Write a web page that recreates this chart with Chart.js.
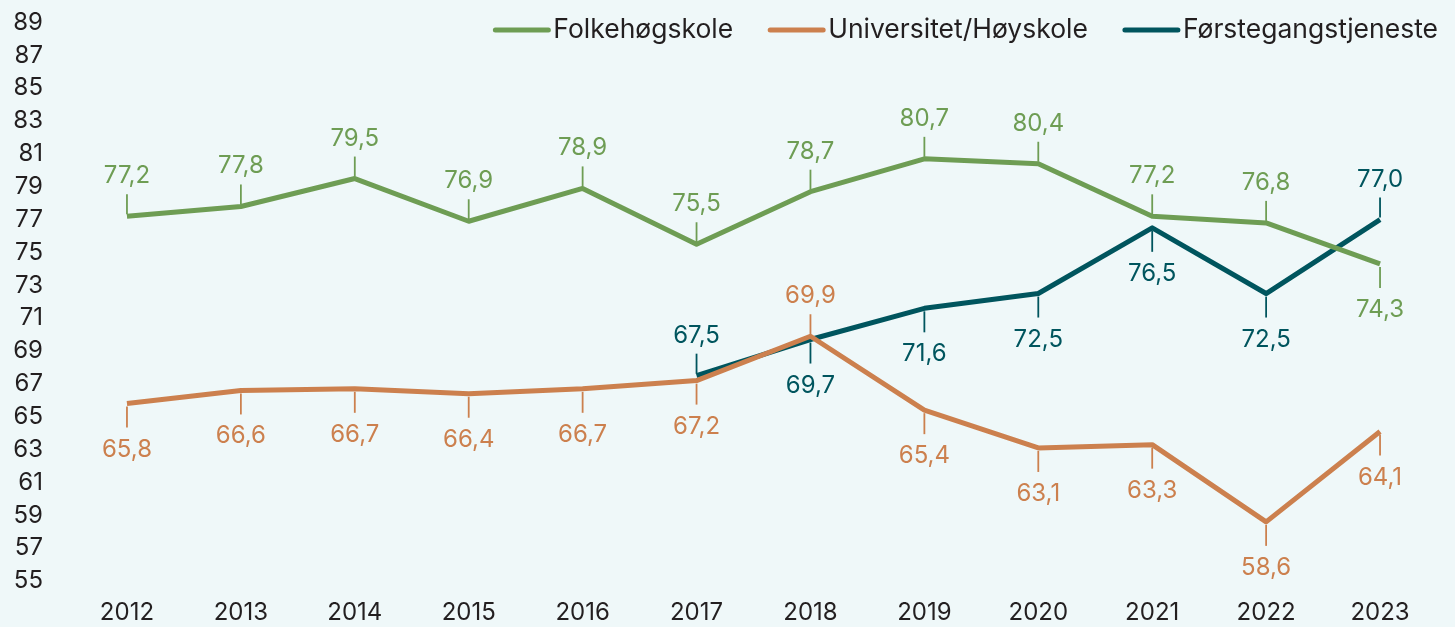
<!DOCTYPE html>
<html>
<head>
<meta charset="utf-8">
<script src="https://cdn.jsdelivr.net/npm/chart.js@4"></script>
<style>
  html, body { margin: 0; padding: 0; background: #eff8f9; }
  #wrap { width: 1455px; height: 627px; }
</style>
</head>
<body>
<div id="wrap"><canvas id="graf"></canvas></div>
<script>
// ── Datos ─────────────────────────────────────────────────────
const years = ["2012","2013","2014","2015","2016","2017","2018","2019","2020","2021","2022","2023"];
const folkehogskole = [77.2, 77.8, 79.5, 76.9, 78.9, 75.5, 78.7, 80.7, 80.4, 77.2, 76.8, 74.3];
const universitet   = [65.8, 66.6, 66.7, 66.4, 66.7, 67.2, 69.9, 65.4, 63.1, 63.3, 58.6, 64.1];
const forstegang    = [null, null, null, null, null, 67.5, 69.7, 71.6, 72.5, 76.5, 72.5, 77.0];
const yTicks = [55, 57, 59, 61, 63, 65, 67, 69, 71, 73, 75, 77, 79, 81, 83, 85, 87, 89];

// lado de la etiqueta: 1 = arriba, -1 = abajo
const folkSide  = [1, 1, 1, 1, 1, 1, 1, 1, 1, 1, 1, -1];
const univSide  = [-1, -1, -1, -1, -1, -1, 1, -1, -1, -1, -1, -1];
const forsSide  = [0, 0, 0, 0, 0, 1, -1, -1, -1, -1, -1, 1];

const GREEN  = "#6e9d54";
const ORANGE = "#cc804e";
const TEAL   = "#00555e";
const INK    = "#231f20";
const FONT   = "Inter, 'Noto Sans', sans-serif";

// ── Etiquetas con línea guía ──────────────────────────────────
const etiquetas = {
  id: "etiquetas",
  afterDatasetsDraw(chart) {
    const ctx = chart.ctx;
    ctx.save();
    ctx.font = `24px ${FONT}`;
    ctx.textAlign = "center";
    ctx.textBaseline = "alphabetic";
    chart.data.datasets.forEach((ds, i) => {
      const meta = chart.getDatasetMeta(i);
      meta.data.forEach((pt, j) => {
        const v = ds.data[j];
        if (v === null) return;
        const side = ds.sides[j];
        ctx.strokeStyle = ds.borderColor;
        ctx.fillStyle = ds.borderColor;
        ctx.lineWidth = 1.8;
        ctx.beginPath();
        if (side > 0) {
          ctx.moveTo(pt.x, pt.y - 2);
          ctx.lineTo(pt.x, pt.y - 22);
        } else {
          ctx.moveTo(pt.x, pt.y + 3);
          ctx.lineTo(pt.x, pt.y + 24);
        }
        ctx.stroke();
        const txt = v.toFixed(1).replace(".", ",");
        ctx.fillText(txt, pt.x, side > 0 ? pt.y - 33 : pt.y + 53);
      });
    });
    ctx.restore();
  }
};

// ── Leyenda propia ────────────────────────────────────────────
const leyenda = {
  id: "leyenda",
  afterDraw(chart) {
    const ctx = chart.ctx;
    ctx.save();
    ctx.font = `26.5px ${FONT}`;
    ctx.textBaseline = "middle";
    ctx.textAlign = "left";
    let x = 1438;
    const y = 30;
    const items = chart.data.datasets.slice().reverse();
    items.forEach((ds) => {
      const w = ctx.measureText(ds.label).width;
      x -= w;
      ctx.fillStyle = INK;
      ctx.fillText(ds.label, x, y);
      ctx.strokeStyle = ds.borderColor;
      ctx.lineWidth = 5;
      ctx.lineCap = "round";
      ctx.beginPath();
      ctx.moveTo(x - 58, y);
      ctx.lineTo(x - 5, y);
      ctx.stroke();
      x -= 95;
    });
    ctx.restore();
  }
};

new Chart(document.getElementById("graf"), {
  type: "line",
  data: {
    labels: years,
    datasets: [
      { label: "Folkehøgskole", data: folkehogskole, sides: folkSide, borderColor: GREEN },
      { label: "Universitet/Høyskole", data: universitet, sides: univSide, borderColor: ORANGE },
      { label: "Førstegangstjeneste", data: forstegang, sides: forsSide, borderColor: TEAL }
    ].map((d) => ({ ...d, borderWidth: 5, pointRadius: 0, tension: 0, fill: false, borderJoinStyle: "round" }))
  },
  options: {
    responsive: true,
    maintainAspectRatio: false,
    animation: false,
    layout: { padding: { top: 22.5, right: 18, left: 0, bottom: 0 } },
    plugins: { legend: { display: false }, tooltip: { enabled: false } },
    scales: {
      x: {
        offset: true,
        grid: { display: false, drawTicks: false },
        border: { display: false },
        ticks: { color: INK, font: { family: FONT, size: 24 }, padding: 17, maxRotation: 0, autoSkip: false },
        afterFit: (s) => { s.height = 46; }
      },
      y: {
        min: 55, max: 89,
        afterBuildTicks: (s) => { s.ticks = yTicks.map((v) => ({ value: v })); },
        // marcas invisibles para separar las etiquetas sin inflar el relleno superior
        grid: { display: true, color: "transparent", drawTicks: true, tickLength: 27, tickColor: "transparent" },
        border: { display: false },
        ticks: { color: INK, font: { family: FONT, size: 24 }, padding: 0, autoSkip: false },
        afterFit: (s) => { s.width = 70; }
      }
    }
  },
  plugins: [etiquetas, leyenda]
});
</script>
</body>
</html>
